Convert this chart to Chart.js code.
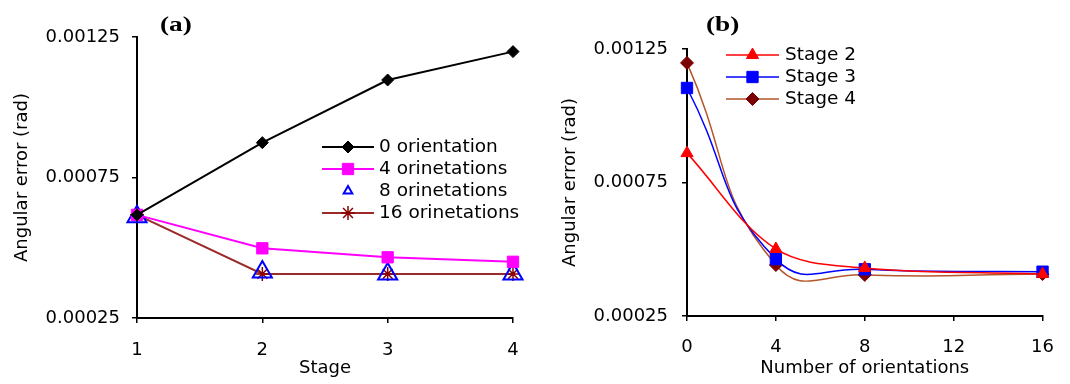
<!DOCTYPE html>
<html>
<head>
<meta charset="utf-8">
<script src="https://cdn.jsdelivr.net/npm/chart.js@4/dist/chart.umd.min.js"></script>
<style>
  body { margin: 0; background: #fff; }
  #wrap { position: relative; width: 1070px; height: 384px; overflow: hidden; }
  canvas { position: absolute; top: 0; }
  #cvA { left: 0; }
  #cvB { left: 540px; }
  .panel {
    position: absolute; font: bold 21px "Liberation Serif", "Times New Roman", serif;
    line-height: 22px; transform: scaleX(1.3); transform-origin: left center; color: #000;
  }
</style>
</head>
<body>
<div id="wrap">
  <canvas id="cvA" width="540" height="384"></canvas>
  <canvas id="cvB" width="530" height="384"></canvas>
  <div class="panel" style="left:160px; top:13px;">(a)</div>
  <div class="panel" style="left:706px; top:13px;">(b)</div>
</div>
<script>
// panel (a): angular error vs stage
const stages = [1, 2, 3, 4];
const orient0 = [0.000617, 0.000874, 0.001097, 0.001198];
const orient4 = [0.000617, 0.000498, 0.000466, 0.00045];
const orient8 = [0.00061, 0.000414, 0.000407, 0.000407];
const orient16 = [0.000617, 0.000407, 0.000407, 0.000407];

// panel (b): angular error vs number of orientations
const orientCounts = [0, 4, 8, 16];
const stage2 = [0.00086, 0.000501, 0.00043, 0.000407];
const stage3 = [0.001104, 0.000463, 0.000425, 0.000416];
const stage4 = [0.001198, 0.000441, 0.000404, 0.000407];

const yTicks = [0.00025, 0.00075, 0.00125];

const FONT = 'DejaVu Sans';

function pts(xs, ys) {
    return xs.map((x, i) => ({ x, y: ys[i] }));
}

// Excel-style legend: short line with the marker in the middle, then the label
const sideLegend = {
    id: 'sideLegend',
    afterDatasetsDraw(chart, args, opts) {
        const ctx = chart.ctx;
        ctx.save();
        ctx.font = opts.fontSize + 'px "' + FONT + '"';
        ctx.textBaseline = 'middle';
        ctx.textAlign = 'left';
        chart.data.datasets.forEach((ds, i) => {
            const y = opts.top + i * opts.rowH;
            const mx = opts.x + opts.lineLen / 2;
            if (ds.showLine !== false) {
                ctx.strokeStyle = ds.borderColor;
                ctx.lineWidth = ds.borderWidth;
                ctx.beginPath();
                ctx.moveTo(opts.x, y);
                ctx.lineTo(opts.x + opts.lineLen, y);
                ctx.stroke();
            }
            ctx.fillStyle = ds.pointBackgroundColor;
            ctx.strokeStyle = ds.pointBorderColor;
            ctx.lineWidth = ds.pointBorderWidth;
            Chart.helpers.drawPoint(ctx, {
                pointStyle: ds.pointStyle,
                radius: ds.legendRadius || ds.pointRadius,
                rotation: 0,
                borderWidth: ds.pointBorderWidth
            }, mx, y);
            ctx.fillStyle = '#000';
            ctx.fillText(ds.label, opts.textX, y);
        });
        ctx.restore();
    }
};

function axisOpts(extra) {
    return Object.assign({
        type: 'linear',
        grid: { display: true, drawOnChartArea: false, drawTicks: true, tickLength: 5, color: '#000', lineWidth: 1.5 },
        border: { color: '#000', width: 2 },
    }, extra);
}

function makeChart(id, datasets, xCfg, layout, legendCfg) {
    return new Chart(document.getElementById(id), {
        type: 'line',
        data: { datasets },
        plugins: [sideLegend],
        options: {
            responsive: false,
            animation: false,
            layout: { padding: { top: layout.top, right: layout.right, left: 0, bottom: 0 } },
            plugins: { legend: { display: false }, tooltip: { enabled: false }, sideLegend: legendCfg },
            scales: {
                x: axisOpts({
                    min: xCfg.min, max: xCfg.max,
                    ticks: { stepSize: xCfg.step, padding: layout.xTickPad, color: '#000', font: { family: FONT, size: 18 }, maxRotation: 0 },
                    title: { display: true, text: xCfg.title, color: '#000', font: { family: FONT, size: 18 }, padding: { top: 0, bottom: 5 } },
                    afterFit: s => { s.height = layout.xHeight; }
                }),
                y: axisOpts({
                    min: 0.00025, max: 0.00125,
                    afterBuildTicks: s => { s.ticks = yTicks.map(v => ({ value: v })); },
                    ticks: { padding: layout.yTickPad, color: '#000', font: { family: FONT, size: 18 }, callback: v => v.toFixed(5) },
                    title: { display: true, text: 'Angular error (rad)', color: '#000', font: { family: FONT, size: 18 }, padding: { top: layout.yTitlePad, bottom: 0 } },
                    afterFit: s => { s.width = layout.left; }
                })
            }
        }
    });
}

const dsA = [
    { label: '0 orientation', data: pts(stages, orient0), borderColor: '#000', borderWidth: 2,
      pointStyle: 'rectRot', pointRadius: 6, pointBackgroundColor: '#000', pointBorderColor: '#000', pointBorderWidth: 1, legendRadius: 6 },
    { label: '4 orinetations', data: pts(stages, orient4), borderColor: '#FF00FF', borderWidth: 2,
      pointStyle: 'rect', pointRadius: 8, pointBackgroundColor: '#FF00FF', pointBorderColor: '#FF00FF', pointBorderWidth: 1, legendRadius: 8 },
    { label: '8 orinetations', data: pts(stages, orient8), showLine: false, borderColor: '#0000FF', borderWidth: 2,
      pointStyle: 'triangle', pointRadius: 11, pointBackgroundColor: 'rgba(0,0,0,0)', pointBorderColor: '#0000FF', pointBorderWidth: 2, legendRadius: 5 },
    { label: '16 orinetations', data: pts(stages, orient16), borderColor: '#9C2A2A', borderWidth: 2,
      pointStyle: 'star', pointRadius: 7, pointBackgroundColor: '#8B0000', pointBorderColor: '#8B0000', pointBorderWidth: 1.5, legendRadius: 7 }
].map(d => Object.assign({ tension: 0, clip: false }, d));

const dsB = [
    { label: 'Stage 2', data: pts(orientCounts, stage2), borderColor: '#FF0000', borderWidth: 1.5, tension: 0.35,
      pointStyle: 'triangle', pointRadius: 7, pointBackgroundColor: '#FF0000', pointBorderColor: '#FF0000', pointBorderWidth: 1, legendRadius: 7 },
    { label: 'Stage 3', data: pts(orientCounts, stage3), borderColor: '#0000FF', borderWidth: 1.5, tension: 0.5,
      pointStyle: 'rect', pointRadius: 8, pointBackgroundColor: '#0000FF', pointBorderColor: '#0000FF', pointBorderWidth: 1, legendRadius: 8 },
    { label: 'Stage 4', data: pts(orientCounts, stage4), borderColor: '#B5562A', borderWidth: 1.5, tension: 0.5,
      pointStyle: 'rectRot', pointRadius: 6.5, pointBackgroundColor: '#7B0000', pointBorderColor: '#7B0000', pointBorderWidth: 1, legendRadius: 6.5 }
].map(d => Object.assign({ clip: false }, d));

makeChart('cvA', dsA,
    { min: 1, max: 4, step: 1, title: 'Stage' },
    { left: 137, right: 27, top: 37, xHeight: 66, xTickPad: 17, yTickPad: 12, yTitlePad: 12 },
    { x: 322, lineLen: 52, textX: 379, top: 147, rowH: 22, fontSize: 18.5 });

// legend coordinates here are relative to the right-hand canvas
makeChart('cvB', dsB,
    { min: 0, max: 16, step: 4, title: 'Number of orientations' },
    { left: 147, right: 16, top: 49, xHeight: 68, xTickPad: 16, yTickPad: 14, yTitlePad: 20 },
    { x: 186, lineLen: 53, textX: 245, top: 55, rowH: 22, fontSize: 18.5 });
</script>
</body>
</html>
